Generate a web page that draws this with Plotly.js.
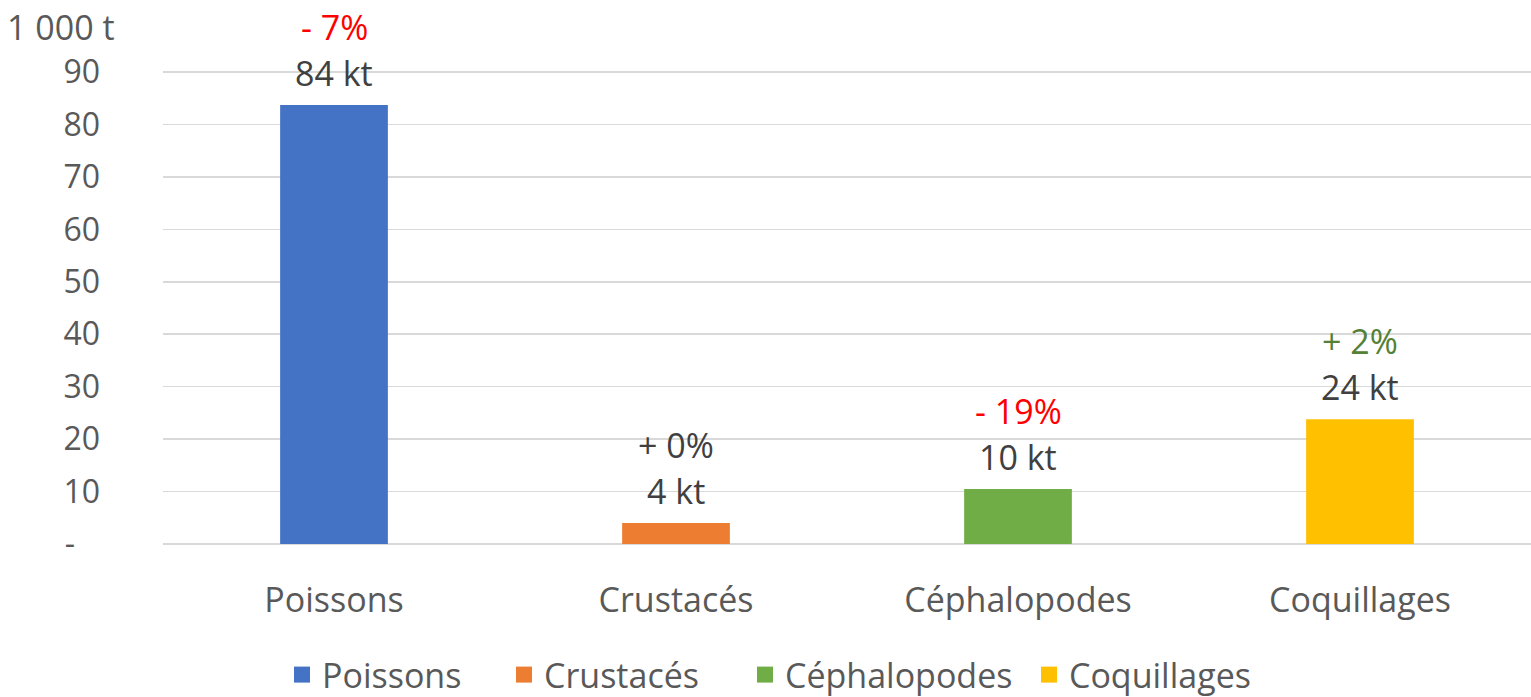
<!DOCTYPE html>
<html>
<head>
<meta charset="utf-8">
<script src="https://cdn.plot.ly/plotly-3.0.1.min.js"></script>
<style>html,body{margin:0;padding:0;background:#fff;}#chart{width:1531px;height:697px;}</style>
</head>
<body>
<div id="chart"></div>
<script>
var categories = ["Poissons", "Crustacés", "Céphalopodes", "Coquillages"];
var values = [83.7, 4.0, 10.5, 23.8];
var valueLabels = ["84 kt", "4 kt", "10 kt", "24 kt"];
var changeLabels = ["- 7%", "+ 0%", "- 19%", "+ 2%"];
var changeColors = ["#FF0000", "#404040", "#FF0000", "#538135"];
var barColors = ["#4472C4", "#ED7D31", "#70AD47", "#FFC000"];
var tickVals = [0, 10, 20, 30, 40, 50, 60, 70, 80, 90];
var tickText = ["-\u00a0\u00a0\u00a0", "10", "20", "30", "40", "50", "60", "70", "80", "90"];

var FONT = "'Open Sans', 'Noto Sans', sans-serif";
var FS = 34;
var W = 1531, H = 697;
var legendIds = ["legend", "legend2", "legend3", "legend4"];
var legendLeftPx = [282, 504, 745, 1029];

var traces = categories.map(function (c, i) {
  return {
    type: "bar",
    name: c,
    x: [c],
    y: [values[i]],
    width: 0.315,
    marker: { color: barColors[i] },
    showlegend: false,
    hoverinfo: "x+y"
  };
});
// legend entries with square keys, one legend each for Excel-like spacing
categories.forEach(function (c, i) {
  traces.push({
    type: "scatter", mode: "markers", name: c,
    x: [null], y: [null],
    marker: { symbol: "square", size: 19, color: barColors[i] },
    showlegend: true, legend: legendIds[i], hoverinfo: "skip"
  });
});

var annotations = [];
categories.forEach(function (c, i) {
  annotations.push({
    x: c, y: values[i], xref: "x", yref: "y",
    text: valueLabels[i], showarrow: false,
    yanchor: "middle", yshift: 32,
    font: { family: FONT, size: FS, color: "#404040" }
  });
  annotations.push({
    x: c, y: values[i], xref: "x", yref: "y",
    text: changeLabels[i], showarrow: false,
    yanchor: "middle", yshift: 78,
    font: { family: FONT, size: FS, color: changeColors[i] }
  });
});
annotations.push({
  x: -0.1155, y: 1.092, xref: "paper", yref: "paper",
  xanchor: "left", yanchor: "middle",
  text: "1 000 t", showarrow: false,
  font: { family: FONT, size: FS, color: "#595959" }
});

var layout = {
  width: W, height: H,
  margin: { l: 163, r: 0, t: 71, b: 153, autoexpand: false },
  paper_bgcolor: "#fff", plot_bgcolor: "#fff",
  barmode: "overlay",
  showlegend: true,
  xaxis: {
    type: "category",
    categoryorder: "array", categoryarray: categories,
    range: [-0.5, 3.5],
    showgrid: false, zeroline: false, showline: false,
    ticks: "", ticklabelstandoff: 33,
    tickfont: { family: FONT, size: FS, color: "#595959" }
  },
  yaxis: {
    range: [0, 90.2],
    tickvals: tickVals, ticktext: tickText,
    showgrid: true, gridcolor: "#D9D9D9", gridwidth: 1.5,
    zeroline: true, zerolinecolor: "#D9D9D9", zerolinewidth: 1.5,
    showline: false,
    ticks: "", ticklabelstandoff: 62,
    tickfont: { family: FONT, size: 32, color: "#595959" }
  },
  annotations: annotations
};
legendIds.forEach(function (id, i) {
  layout[id] = {
    orientation: "h",
    xref: "container", yref: "container",
    x: legendLeftPx[i] / W, xanchor: "left",
    y: 1 - 675 / H, yanchor: "middle",
    font: { family: FONT, size: FS, color: "#595959" },
    itemwidth: 30, bgcolor: "rgba(0,0,0,0)"
  };
});

Plotly.newPlot("chart", traces, layout, { displayModeBar: false, staticPlot: true });
</script>
</body>
</html>
